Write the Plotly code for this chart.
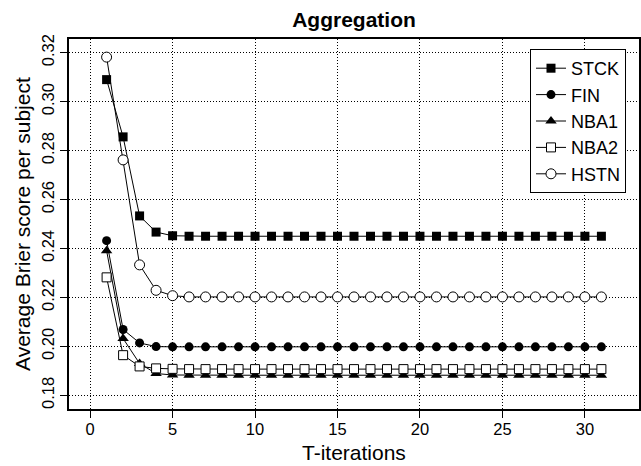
import plotly.graph_objects as go

iterations = list(range(1, 32))
stck = [0.309, 0.2856, 0.2533, 0.2467, 0.2452] + [0.245] * 26
fin = [0.2432, 0.2069, 0.2014, 0.1999, 0.1998] + [0.1998] * 26
nba1 = [0.2391, 0.2032, 0.1930, 0.1889, 0.1883] + [0.1882] * 26
nba2 = [0.2282, 0.1964, 0.1918, 0.1910, 0.1908] + [0.1907] * 26
hstn = [0.3182, 0.2762, 0.2333, 0.2229, 0.2207] + [0.2202] * 26

x_ticks = [0, 5, 10, 15, 20, 25, 30]
y_ticks = [0.18, 0.20, 0.22, 0.24, 0.26, 0.28, 0.30, 0.32]
y_ticklabels = ["0.18", "0.20", "0.22", "0.24", "0.26", "0.28", "0.30", "0.32"]

series = [
    ("STCK", stck, "square", "black", 9),
    ("FIN", fin, "circle", "black", 9),
    ("NBA1", nba1, "triangle-up", "black", 10),
    ("NBA2", nba2, "square", "white", 9),
    ("HSTN", hstn, "circle", "white", 10),
]

font_family = "Liberation Sans, Arial, Helvetica, sans-serif"

fig = go.Figure()
for name, vals, sym, fill, size in series:
    marker = dict(symbol=sym, size=size, color=fill,
                  line=dict(color="black", width=1 if fill == "white" else 0))
    fig.add_trace(go.Scatter(
        x=iterations, y=vals, name=name, mode="lines+markers",
        line=dict(color="black", width=1), marker=marker,
    ))

L, R, T, B = 69, 2, 39, 57
W, H = 641, 466
pw, ph = W - L - R, H - T - B

axis_common = dict(
    showline=True, linecolor="black", linewidth=1.5, mirror=True,
    ticks="outside", ticklen=7, tickcolor="black", tickwidth=1,
    showgrid=True, gridcolor="black", gridwidth=1, griddash="1px,2px",
    zeroline=False, automargin=False,
    tickfont=dict(size=16.5, color="black", family=font_family),
)

fig.update_layout(
    width=W, height=H,
    margin=dict(l=L, r=R, t=T, b=B),
    paper_bgcolor="white", plot_bgcolor="white",
    font=dict(family=font_family, color="black"),
    title=dict(text="<b>Aggregation</b>", x=(69 + 639) / 2 / W, xanchor="center",
               y=1 - 20 / H, yanchor="middle", yref="container",
               font=dict(size=21, color="black", family=font_family)),
    xaxis=dict(axis_common, range=[-1.28, 33.28], tickvals=x_ticks, ticklabelstandoff=-3),
    yaxis=dict(axis_common, range=[0.1744, 0.3256], tickvals=y_ticks,
               ticktext=y_ticklabels, tickangle=-90, ticklabelstandoff=0),
    legend=dict(x=(626 - L) / pw, xanchor="right", y=(H - B - 49) / ph, yanchor="top",
                bgcolor="white", bordercolor="black", borderwidth=1,
                font=dict(size=18, color="black"), tracegroupgap=0, itemwidth=30),
    showlegend=True,
    annotations=[
        dict(text="T-iterations", xref="paper", yref="paper",
             x=0.5, y=(H - B - 452) / ph, xanchor="center", yanchor="middle",
             showarrow=False, font=dict(size=21, color="black")),
        dict(text="Average Brier score per subject", xref="paper", yref="paper",
             x=(22 - L) / pw, y=0.5, xanchor="center", yanchor="middle", textangle=-90,
             showarrow=False, font=dict(size=21, color="black")),
    ],
)

fig.write_html("out.html", config={"displayModeBar": False},
               post_script="document.body.style.margin='0';document.body.style.padding='0';"
                           "document.body.style.overflow='hidden';")
